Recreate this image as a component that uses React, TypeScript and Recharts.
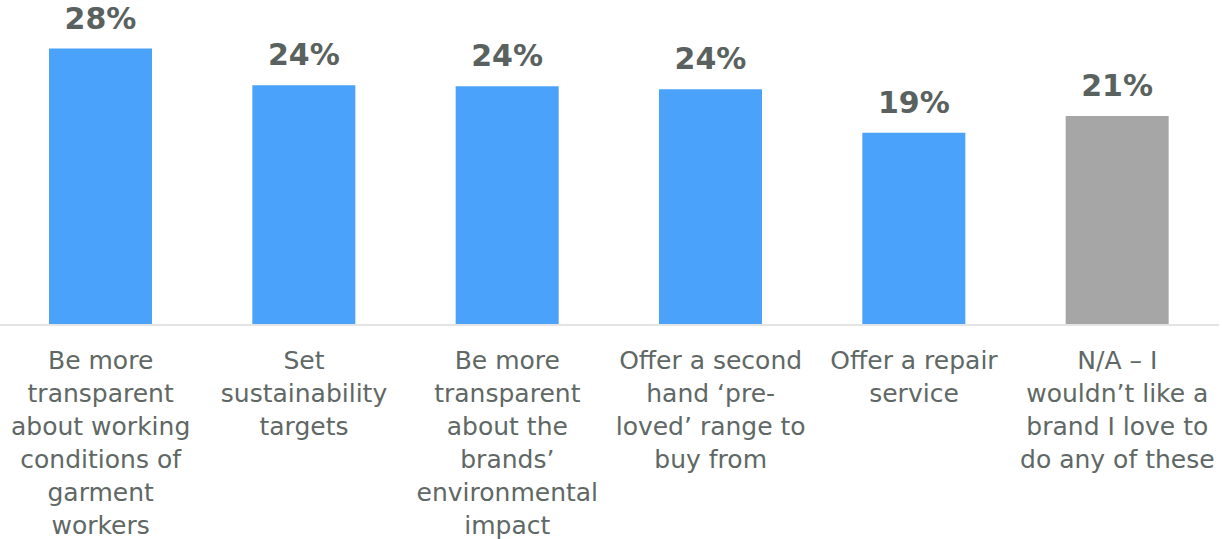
import React from "react";
import { BarChart, Bar, XAxis, YAxis, Cell, LabelList } from "recharts";

const categories = [
  "Be more\ntransparent\nabout working\nconditions of\ngarment\nworkers",
  "Set\nsustainability\ntargets",
  "Be more\ntransparent\nabout the\nbrands’\nenvironmental\nimpact",
  "Offer a second\nhand ‘pre-\nloved’ range to\nbuy from",
  "Offer a repair\nservice",
  "N/A – I\nwouldn’t like a\nbrand I love to\ndo any of these",
];
const shares = [27.9, 24.2, 24.1, 23.8, 19.4, 21.1];
const barColors = ["#4ba2fa", "#4ba2fa", "#4ba2fa", "#4ba2fa", "#4ba2fa", "#a6a6a6"];

const data = categories.map((name, i) => ({ name, value: shares[i], color: barColors[i] }));

const FONT = "'DejaVu Sans', sans-serif";
const TEXT_COLOR = "#606865";

const CategoryTick = (props: any) => {
  const { x, y, payload } = props;
  const lines: string[] = String(payload.value).split("\n");
  return (
    <text x={x} y={y} textAnchor="middle" fill={TEXT_COLOR} fontFamily={FONT} fontSize={25}>
      {lines.map((line, i) => (
        <tspan key={i} x={x} dy={i === 0 ? 44 : 33}>
          {line}
        </tspan>
      ))}
    </text>
  );
};

export default function App() {
  return (
    <div style={{ position: "absolute", left: 0, top: 0, background: "#ffffff" }}>
      <BarChart
        width={1222}
        height={539}
        data={data}
        margin={{ top: 8, right: 3, left: -1, bottom: 0 }}
      >
        <XAxis
          dataKey="name"
          interval={0}
          height={214}
          tickLine={false}
          tickSize={0}
          tickMargin={0}
          axisLine={{ stroke: "#e4e4e4", strokeWidth: 2 }}
          tick={<CategoryTick />}
        />
        <YAxis hide domain={[0, 32]} />
        <Bar dataKey="value" barSize={103} isAnimationActive={false}>
          {data.map((d, i) => (
            <Cell key={`cell-${i}`} fill={d.color} />
          ))}
          <LabelList
            dataKey="value"
            position="top"
            offset={20}
            formatter={(v: any) => `${Math.round(Number(v))}%`}
            fill="#5a625f"
            fontFamily={FONT}
            fontSize={30}
            fontWeight="bold"
          />
        </Bar>
      </BarChart>
    </div>
  );
}
